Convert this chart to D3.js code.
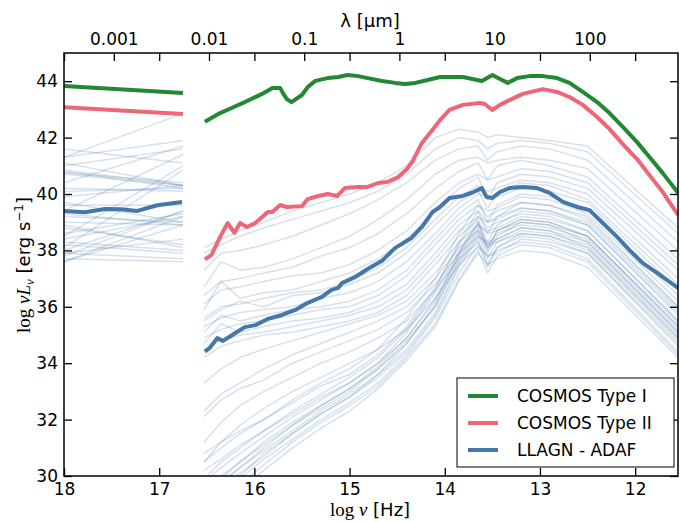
<!DOCTYPE html>
<html>
<head>
<meta charset="utf-8">
<script src="https://cdn.jsdelivr.net/npm/d3@7"></script>
<style>
  body { margin: 0; background: #fff; }
  svg { display: block; }
  text { font-family: "DejaVu Sans", sans-serif; }
</style>
</head>
<body>
<svg id="chart" width="680" height="522"></svg>
<script>
// ---------------- DATA ----------------
// Frequency grids (log nu [Hz])
const LOGNU_LEFT_THIN = [18, 16.75];
const LOGNU_RIGHT_THIN = [16.53, 16.35, 16.15, 15.9, 15.6, 15.3, 15.0, 14.7, 14.4, 14.1, 13.85, 13.65, 13.55, 13.45, 13.2, 12.9, 12.5, 11.55];

// Individual LLAGN SEDs - X-ray segment (value at 18, value at 16.75)
const THIN_LEFT_18 = [41.6, 41.3, 41.1, 40.85, 40.8, 40.75, 40.7, 40.4, 40.1, 39.9, 39.6, 39.4, 39.2, 39.0, 38.8, 38.6, 38.4, 38.3, 38.2, 38.1, 37.9, 37.8, 37.7, 37.6, 37.6, 41.3, 40.2, 39.7, 38.9, 38.5, 38.0, 41.0, 39.3, 37.9];
const THIN_LEFT_1675 = [41.1, 41.9, 40.3, 40.3, 40.2, 40.4, 40.3, 41.7, 40.2, 40.3, 39.6, 41.4, 39.0, 38.9, 38.2, 39.3, 39.2, 38.0, 37.9, 40.85, 37.7, 39.4, 37.6, 38.9, 39.2, 42.85, 40.1, 39.0, 38.1, 41.0, 39.4, 41.6, 38.9, 38.4];

// Individual LLAGN SEDs - UV to far-IR segment
const THIN_RIGHT = [
  [38.1, 38.4, 38.7, 39.0, 39.4, 39.7, 40.0, 40.4, 41.0, 42.0, 42.3, 42.2, 42.0, 42.1, 42.0, 41.9, 41.7, 38.8],
  [37.9, 38.2, 38.5, 38.8, 39.1, 39.4, 39.7, 40.1, 40.7, 41.6, 42.0, 41.9, 41.6, 41.8, 41.9, 41.8, 41.5, 38.6],
  [37.3, 37.9, 38.0, 38.2, 38.5, 38.9, 39.3, 39.8, 40.4, 41.2, 41.6, 41.7, 41.2, 41.5, 41.7, 41.6, 41.2, 38.3],
  [36.7, 37.6, 37.3, 37.4, 37.7, 38.1, 38.5, 39.1, 39.8, 40.7, 41.2, 41.3, 41.1, 41.2, 41.3, 41.2, 40.9, 38.0],
  [36.4, 36.9, 37.0, 37.2, 37.4, 37.8, 38.1, 38.6, 39.3, 40.2, 40.8, 41.1, 40.5, 41.0, 41.2, 41.0, 40.6, 37.7],
  [36.1, 36.6, 36.7, 36.9, 37.1, 37.2, 37.5, 38.0, 38.7, 39.7, 40.4, 40.7, 40.5, 40.6, 40.9, 40.8, 40.4, 37.5],
  [35.9, 36.9, 36.3, 36.5, 36.6, 36.9, 37.2, 37.7, 38.4, 39.4, 40.2, 40.6, 39.8, 40.4, 40.7, 40.6, 40.2, 37.3],
  [35.6, 36.0, 36.1, 36.3, 36.5, 36.6, 36.9, 37.4, 38.1, 39.1, 39.9, 40.3, 40.1, 40.2, 40.5, 40.4, 40.0, 37.0],
  [35.5, 35.9, 36.2, 36.0, 36.4, 36.5, 36.8, 37.2, 37.9, 38.9, 39.7, 40.1, 39.5, 40.0, 40.4, 40.3, 39.8, 36.8],
  [35.3, 35.6, 35.8, 35.9, 36.0, 36.3, 36.5, 36.9, 37.6, 38.6, 39.5, 40.0, 39.9, 39.9, 40.2, 40.1, 39.7, 36.6],
  [35.1, 35.7, 35.5, 35.7, 35.9, 36.0, 36.2, 36.6, 37.3, 38.4, 39.3, 39.8, 39.0, 39.6, 40.0, 39.9, 39.5, 36.4],
  [34.9, 35.2, 35.4, 35.5, 35.7, 35.9, 36.0, 36.4, 37.1, 38.2, 39.1, 39.6, 39.4, 39.5, 39.9, 39.8, 39.3, 36.2],
  [34.7, 35.4, 35.1, 35.3, 35.5, 35.6, 35.8, 36.2, 36.8, 37.9, 38.9, 39.4, 38.6, 39.2, 39.7, 39.6, 39.2, 36.0],
  [34.5, 34.8, 35.0, 35.1, 35.3, 35.5, 35.7, 36.0, 36.6, 37.7, 38.7, 39.2, 39.0, 39.1, 39.5, 39.4, 39.0, 35.9],
  [34.2, 34.6, 34.8, 35.0, 35.1, 35.3, 35.5, 35.8, 36.4, 37.5, 38.5, 39.1, 38.3, 38.9, 39.4, 39.3, 38.9, 35.7],
  [33.3, 33.8, 34.2, 34.5, 34.8, 35.1, 35.4, 35.7, 36.2, 37.2, 38.3, 38.9, 38.7, 38.8, 39.2, 39.1, 38.7, 35.5],
  [32.3, 32.9, 33.3, 33.8, 34.3, 34.7, 35.1, 35.5, 36.0, 37.0, 38.1, 38.7, 37.9, 38.5, 39.0, 38.9, 38.5, 35.3],
  [32.1, 32.7, 33.1, 33.4, 34.0, 34.4, 34.8, 35.2, 35.8, 36.8, 37.9, 38.5, 38.3, 38.4, 38.8, 38.7, 38.3, 35.1],
  [31.2, 31.9, 32.5, 33.0, 33.5, 34.0, 34.4, 34.9, 35.5, 36.6, 37.7, 38.3, 37.4, 38.1, 38.6, 38.5, 38.1, 34.9],
  [30.5, 31.2, 31.8, 32.4, 33.0, 33.5, 34.0, 34.5, 35.2, 36.3, 37.5, 38.1, 37.8, 37.9, 38.4, 38.3, 37.9, 34.7],
  [29.8, 30.3, 30.8, 31.4, 32.1, 32.7, 33.3, 34.0, 34.9, 36.2, 37.8, 38.8, 38.2, 38.6, 38.9, 38.8, 38.4, 35.2],
  [29.5, 30.0, 30.5, 31.1, 31.8, 32.5, 33.1, 33.8, 34.7, 36.0, 37.6, 38.6, 37.7, 38.3, 38.7, 38.6, 38.2, 35.0],
  [29.3, 29.8, 30.3, 30.9, 31.6, 32.3, 32.9, 33.6, 34.5, 35.8, 37.5, 38.5, 38.2, 38.3, 38.6, 38.5, 38.0, 34.8],
  [29.0, 29.6, 30.1, 30.7, 31.5, 32.2, 32.8, 33.5, 34.4, 35.7, 37.4, 38.4, 37.5, 38.1, 38.5, 38.4, 37.9, 34.6],
  [30.8, 31.2, 31.6, 32.0, 32.6, 33.2, 33.6, 34.3, 35.3, 36.7, 38.2, 39.2, 38.8, 39.0, 39.3, 39.2, 38.7, 35.5],
  [30.2, 30.6, 31.1, 31.6, 32.2, 32.8, 33.3, 34.0, 35.1, 36.5, 38.0, 39.0, 38.1, 38.7, 39.1, 39.0, 38.5, 35.3],
  [28.7, 29.3, 29.9, 30.6, 31.3, 32.0, 32.6, 33.3, 34.3, 35.6, 37.2, 38.2, 37.8, 38.0, 38.3, 38.2, 37.7, 34.4],
  [28.4, 29.0, 29.7, 30.4, 31.2, 31.9, 32.5, 33.2, 34.2, 35.4, 37.0, 38.0, 37.2, 37.8, 38.2, 38.1, 37.6, 34.3],
  [29.9, 30.5, 31.0, 31.6, 32.3, 32.9, 33.5, 34.2, 35.2, 36.6, 38.3, 39.4, 39.0, 39.2, 39.5, 39.4, 38.9, 35.8],
  [28.9, 29.5, 30.0, 30.8, 31.5, 32.2, 32.8, 33.6, 34.7, 36.1, 37.9, 39.0, 38.0, 38.7, 39.1, 39.0, 38.5, 35.4],
  [29.4, 29.9, 30.5, 31.2, 31.9, 32.5, 33.1, 33.9, 34.9, 36.3, 37.9, 38.9, 38.6, 38.7, 39.0, 38.9, 38.3, 35.1],
  [28.2, 28.8, 29.5, 30.2, 31.0, 31.7, 32.3, 33.1, 34.1, 35.3, 36.9, 37.9, 37.5, 37.7, 38.0, 37.9, 37.4, 34.2],
  [30.5, 31.0, 31.5, 32.0, 32.7, 33.3, 33.8, 34.5, 35.6, 37.0, 38.6, 39.6, 39.2, 39.4, 39.7, 39.6, 39.1, 36.0],
  [29.2, 29.7, 30.3, 31.0, 31.8, 32.4, 33.0, 33.8, 34.8, 36.0, 37.7, 38.7, 38.1, 38.4, 38.8, 38.7, 38.1, 34.9]
];

// COSMOS Type I (green)
const T1_LEFT_NU = [18, 16.75];
const T1_LEFT_L = [43.83, 43.58];
const T1_NU = [16.52, 16.36, 16.24, 16.10, 15.92, 15.81, 15.73, 15.70, 15.66, 15.61, 15.50, 15.44, 15.36, 15.23, 15.12, 15.02, 14.91, 14.81, 14.66, 14.52, 14.42, 14.31, 14.18, 14.05, 13.98, 13.81, 13.61, 13.50, 13.42, 13.34, 13.24, 13.11, 12.97, 12.82, 12.69, 12.55, 12.40, 12.27, 12.13, 11.98, 11.85, 11.71, 11.55];
const T1_L  = [42.56, 42.87, 43.05, 43.26, 43.55, 43.76, 43.76, 43.58, 43.37, 43.26, 43.51, 43.79, 44.01, 44.11, 44.15, 44.22, 44.18, 44.11, 44.01, 43.94, 43.90, 43.94, 44.04, 44.15, 44.15, 44.15, 44.01, 44.22, 44.08, 43.94, 44.11, 44.18, 44.18, 44.11, 43.94, 43.62, 43.26, 42.87, 42.38, 41.84, 41.31, 40.74, 40.04];

// COSMOS Type II (pink)
const T2_LEFT_NU = [18, 16.75];
const T2_LEFT_L = [43.08, 42.84];
const T2_NU = [16.52, 16.45, 16.36, 16.28, 16.21, 16.15, 16.08, 15.99, 15.86, 15.81, 15.73, 15.66, 15.50, 15.44, 15.33, 15.23, 15.13, 15.05, 14.91, 14.81, 14.70, 14.60, 14.49, 14.40, 14.34, 14.24, 14.13, 14.05, 13.95, 13.81, 13.63, 13.58, 13.50, 13.42, 13.32, 13.18, 12.97, 12.82, 12.69, 12.55, 12.40, 12.27, 12.13, 11.98, 11.85, 11.71, 11.55];
const T2_L  = [37.68, 37.84, 38.48, 38.97, 38.62, 38.97, 38.83, 38.97, 39.36, 39.36, 39.61, 39.54, 39.57, 39.82, 39.93, 40.00, 39.93, 40.21, 40.25, 40.25, 40.39, 40.43, 40.60, 40.88, 41.15, 41.81, 42.27, 42.62, 42.98, 43.16, 43.23, 43.19, 42.98, 43.16, 43.33, 43.55, 43.72, 43.62, 43.44, 43.16, 42.73, 42.31, 41.77, 41.24, 40.67, 40.07, 39.26];

// LLAGN - ADAF (blue)
const AD_LEFT_NU = [18, 17.78, 17.57, 17.4, 17.23, 17.02, 16.76];
const AD_LEFT_L = [39.40, 39.35, 39.47, 39.46, 39.40, 39.60, 39.72];
const AD_NU = [16.52, 16.47, 16.39, 16.33, 16.20, 16.10, 15.99, 15.86, 15.71, 15.57, 15.44, 15.29, 15.19, 15.12, 15.08, 14.94, 14.81, 14.66, 14.52, 14.35, 14.24, 14.13, 14.05, 13.95, 13.81, 13.70, 13.61, 13.56, 13.50, 13.42, 13.32, 13.18, 13.03, 12.90, 12.76, 12.61, 12.48, 12.34, 12.19, 12.06, 11.92, 11.77, 11.55];
const AD_L  = [34.41, 34.54, 34.89, 34.79, 35.07, 35.28, 35.35, 35.57, 35.71, 35.89, 36.14, 36.35, 36.60, 36.67, 36.84, 37.06, 37.34, 37.63, 38.09, 38.44, 38.83, 39.36, 39.54, 39.86, 39.93, 40.07, 40.21, 39.89, 39.86, 40.07, 40.21, 40.25, 40.21, 40.04, 39.72, 39.54, 39.43, 38.97, 38.48, 38.01, 37.55, 37.20, 36.67];

// Axis ticks
const X_TICKS = [18, 17, 16, 15, 14, 13, 12];
const Y_TICKS = [30, 32, 34, 36, 38, 40, 42, 44];
const LAMBDA_TICKS = [0.001, 0.01, 0.1, 1, 10, 100];
const LAMBDA_LABELS = ["0.001", "0.01", "0.1", "1", "10", "100"];
const LEGEND_LABELS = ["COSMOS Type I", "COSMOS Type II", "LLAGN - ADAF"];
const COLORS = ["#228833", "#EE6677", "#4477AA"];

// ---------------- CHART ----------------
const svg = d3.select("#chart");
const L = 64, R = 678, T = 53, B = 476;
const x = d3.scaleLinear().domain([18, 11.55]).range([L, R]);
const y = d3.scaleLinear().domain([30, 45]).range([B, T]);
const C_UM_HZ = 2.998e14;
const lamToNu = l => Math.log10(C_UM_HZ / l);

svg.append("defs").append("clipPath").attr("id", "clip")
  .append("rect").attr("x", L).attr("y", T).attr("width", R - L).attr("height", B - T);

const plot = svg.append("g").attr("clip-path", "url(#clip)");
const line = d3.line().x(d => x(d[0])).y(d => y(d[1]));

// thin lines
THIN_LEFT_18.forEach((v, i) => {
  plot.append("path")
    .attr("d", line([[LOGNU_LEFT_THIN[0], v], [LOGNU_LEFT_THIN[1], THIN_LEFT_1675[i]]]))
    .attr("fill", "none").attr("stroke", "#4477AA").attr("stroke-opacity", 0.22).attr("stroke-width", 1.5);
});
THIN_RIGHT.forEach(arr => {
  plot.append("path")
    .attr("d", line(arr.map((v, j) => [LOGNU_RIGHT_THIN[j], v])))
    .attr("fill", "none").attr("stroke", "#4477AA").attr("stroke-opacity", 0.22).attr("stroke-width", 1.5)
    .attr("stroke-linejoin", "round");
});

function thick(nu, l, color) {
  plot.append("path")
    .attr("d", line(nu.map((n, i) => [n, l[i]])))
    .attr("fill", "none").attr("stroke", color).attr("stroke-width", 4)
    .attr("stroke-linejoin", "round").attr("stroke-linecap", "butt");
}
thick(AD_LEFT_NU, AD_LEFT_L, COLORS[2]);
thick(AD_NU, AD_L, COLORS[2]);
thick(T2_LEFT_NU, T2_LEFT_L, COLORS[1]);
thick(T2_NU, T2_L, COLORS[1]);
thick(T1_LEFT_NU, T1_LEFT_L, COLORS[0]);
thick(T1_NU, T1_L, COLORS[0]);

// axes
const fs = "17px";
const bottom = svg.append("g").attr("transform", `translate(0,${B})`)
  .call(d3.axisBottom(x).tickValues(X_TICKS).tickSize(-8).tickPadding(7).tickFormat(d3.format("d")));
const topNu = svg.append("g").attr("transform", `translate(0,${T})`)
  .call(d3.axisTop(x).tickValues(X_TICKS).tickSize(-8).tickFormat(""));
const topLam = svg.append("g").attr("transform", `translate(0,${T})`)
  .call(d3.axisTop(x).tickValues(LAMBDA_TICKS.map(lamToNu)).tickSize(-8).tickPadding(8)
    .tickFormat((d, i) => LAMBDA_LABELS[i]));
const left = svg.append("g").attr("transform", `translate(${L},0)`)
  .call(d3.axisLeft(y).tickValues(Y_TICKS).tickSize(-8).tickPadding(6).tickFormat(d3.format("d")));
const right = svg.append("g").attr("transform", `translate(${R},0)`)
  .call(d3.axisRight(y).tickValues(Y_TICKS).tickSize(-8).tickFormat(""));

[bottom, topNu, topLam, left, right].forEach(g => {
  g.select(".domain").remove();
  g.selectAll(".tick line").attr("stroke", "#000").attr("stroke-width", 1.3);
  g.selectAll("text").attr("font-size", fs).attr("font-family", "DejaVu Sans").attr("fill", "#000");
});

svg.append("rect").attr("x", L).attr("y", T).attr("width", R - L).attr("height", B - T)
  .attr("fill", "none").attr("stroke", "#000").attr("stroke-width", 1.5);

// axis titles
const xl = svg.append("text").attr("x", 370).attr("y", 516).attr("text-anchor", "middle").attr("font-size", "18px");
xl.append("tspan").attr("font-family", "Liberation Serif, DejaVu Serif, serif").attr("font-size", "19px").text("log ");
xl.append("tspan").attr("font-family", "Liberation Serif, DejaVu Serif, serif").attr("font-style", "italic").attr("font-size", "19px").text("ν");
xl.append("tspan").attr("font-family", "DejaVu Sans").text(" [Hz]");

const yl = svg.append("text").attr("transform", "translate(30,265) rotate(-90)").attr("text-anchor", "middle").attr("font-size", "18px");
yl.append("tspan").attr("font-family", "Liberation Serif, DejaVu Serif, serif").attr("font-size", "19px").text("log ");
yl.append("tspan").attr("font-family", "Liberation Serif, DejaVu Serif, serif").attr("font-style", "italic").attr("font-size", "19px").text("νL");
yl.append("tspan").attr("font-family", "Liberation Serif, DejaVu Serif, serif").attr("font-style", "italic").attr("font-size", "13px").attr("dy", 4).text("ν");
yl.append("tspan").attr("font-family", "DejaVu Sans").attr("dy", -4).text(" [erg s");
yl.append("tspan").attr("font-family", "DejaVu Sans").attr("font-size", "12px").attr("dy", -7).text("−1");
yl.append("tspan").attr("font-family", "DejaVu Sans").attr("dy", 7).text("]");

svg.append("text").attr("x", 370).attr("y", 27).attr("text-anchor", "middle")
  .attr("font-size", "18px").attr("font-family", "DejaVu Sans").text("λ [μm]");

// legend
const lg = svg.append("g");
lg.append("rect").attr("x", 457).attr("y", 378).attr("width", 217).attr("height", 89)
  .attr("fill", "#fff").attr("stroke", "#000").attr("stroke-width", 1);
LEGEND_LABELS.forEach((lab, i) => {
  const yy = 396 + i * 27;
  lg.append("line").attr("x1", 468).attr("x2", 498).attr("y1", yy).attr("y2", yy)
    .attr("stroke", COLORS[i]).attr("stroke-width", 4);
  lg.append("text").attr("x", 517).attr("y", yy + 6).attr("font-size", "17px").attr("font-family", "DejaVu Sans").text(lab);
});
</script>
</body>
</html>
